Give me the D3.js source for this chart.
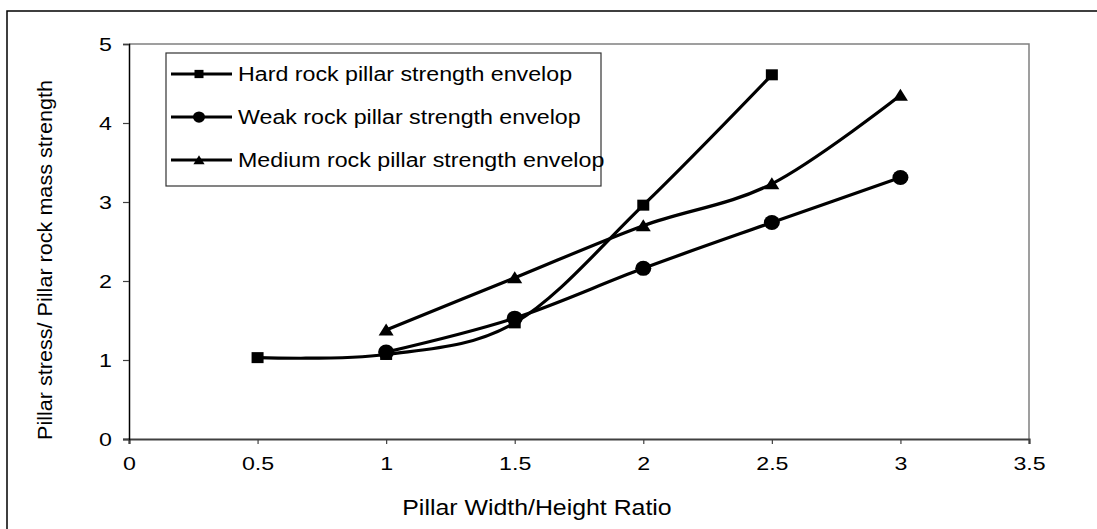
<!DOCTYPE html>
<html><head><meta charset="utf-8">
<script src="https://cdn.jsdelivr.net/npm/d3@7"></script>
<style>body{margin:0;background:#fff}svg{display:block;font-family:Arial,"Liberation Sans",sans-serif}</style>
</head><body>
<svg id="c" width="1097" height="529"></svg>
<script>
const xTicks = [0, 0.5, 1, 1.5, 2, 2.5, 3, 3.5];
const yTicks = [0, 1, 2, 3, 4, 5];
const hardX = [0.5, 1, 1.5, 2, 2.5];
const hardY = [1.03, 1.07, 1.47, 2.96, 4.61];
const weakX = [1, 1.5, 2, 2.5, 3];
const weakY = [1.10, 1.53, 2.16, 2.74, 3.31];
const medX = [1, 1.5, 2, 2.5, 3];
const medY = [1.38, 2.04, 2.70, 3.23, 4.35];
const seriesNames = ["Hard rock pillar strength envelop", "Weak rock pillar strength envelop", "Medium rock pillar strength envelop"];
const xTitle = "Pillar Width/Height Ratio";
const yTitle = "Pillar stress/ Pillar rock mass strength";

const STRETCH = 1.19;
const svg = d3.select("#c");
const m = {l:129, r:1029, t:44, b:439};
const x = d3.scaleLinear().domain([0, 3.5]).range([m.l, m.r]);
const y = d3.scaleLinear().domain([0, 5]).range([m.b, m.t]);
const fmt = d => String(d);

function stretch(sel, k) {
  sel.each(function(){
    const len = this.getComputedTextLength();
    d3.select(this).attr("textLength", len * (k || STRETCH)).attr("lengthAdjust", "spacingAndGlyphs");
  });
}

// outer frame
svg.append("rect").attr("x", 7).attr("y", 11).attr("width", 1200).attr("height", 600)
  .attr("fill", "none").attr("stroke", "#000").attr("stroke-width", 1.5);

// plot area frame (top, right)
svg.append("path").attr("d", `M${m.l},${m.t}H${m.r}V${m.b}`)
  .attr("fill", "none").attr("stroke", "#808080").attr("stroke-width", 1.5);

// x axis
const xa = svg.append("g").attr("transform", `translate(0,${m.b})`)
  .call(d3.axisBottom(x).tickValues(xTicks).tickFormat(fmt).tickSize(5).tickPadding(13));
xa.select(".domain").attr("stroke", "#404040").attr("stroke-width", 2.2);
xa.selectAll(".tick line").attr("stroke", "#404040").attr("stroke-width", 1.2);
xa.selectAll(".tick text").attr("font-size", 19).attr("fill", "#000").attr("font-family", "Arial, 'Liberation Sans', sans-serif").call(stretch, 1.22);

// y axis
const ya = svg.append("g").attr("transform", `translate(${m.l},0)`)
  .call(d3.axisLeft(y).tickValues(yTicks).tickFormat(fmt).tickSize(6).tickPadding(11));
ya.select(".domain").attr("stroke", "#000").attr("stroke-width", 1.5);
ya.selectAll(".tick line").attr("stroke", "#404040").attr("stroke-width", 1.2);
ya.selectAll(".tick text").attr("font-size", 19).attr("fill", "#000").attr("font-family", "Arial, 'Liberation Sans', sans-serif").call(stretch, 1.22);
ya.select(".tick:first-of-type line").attr("stroke-width", 2);

// titles
svg.append("text").attr("x", 537).attr("y", 515).attr("text-anchor", "middle")
  .attr("font-size", 22).text(xTitle).call(stretch, 1.13);
svg.append("text").attr("transform", "translate(52,260) rotate(-90)").attr("text-anchor", "middle")
  .attr("font-size", 20).attr("textLength", 360).attr("lengthAdjust", "spacingAndGlyphs").text(yTitle);

// series
const line = d3.line().x(d => x(d[0])).y(d => y(d[1])).curve(d3.curveCatmullRom.alpha(0));
const series = [
  {xs: hardX, ys: hardY, mk: "square"},
  {xs: weakX, ys: weakY, mk: "circle"},
  {xs: medX, ys: medY, mk: "triangle"}
];
function marker(g, type, cx, cy, s) {
  s = s || 1;
  if (type === "square") {
    g.append("rect").attr("x", cx - 6*s).attr("y", cy - 5.5*s).attr("width", 12*s).attr("height", 11*s).attr("fill", "#000");
  } else if (type === "circle") {
    g.append("ellipse").attr("cx", cx).attr("cy", cy).attr("rx", 8*s).attr("ry", 7.5*s).attr("fill", "#000");
  } else {
    g.append("path").attr("d", `M${cx},${cy-6.5*s}L${cx+7.5*s},${cy+5.5*s}L${cx-7.5*s},${cy+5.5*s}Z`).attr("fill", "#000");
  }
}
const gS = svg.append("g");
series.forEach(s => {
  const pts = s.xs.map((v, i) => [v, s.ys[i]]);
  gS.append("path").attr("d", line(pts)).attr("fill", "none").attr("stroke", "#000").attr("stroke-width", 3.2);
});
series.forEach(s => {
  s.xs.forEach((v, i) => marker(gS, s.mk, x(v), y(s.ys[i])));
});

// legend
const lg = svg.append("g");
lg.append("rect").attr("x", 166).attr("y", 53).attr("width", 435).attr("height", 133)
  .attr("fill", "#fff").attr("stroke", "#333").attr("stroke-width", 1.2);
const rows = [74, 117, 160];
series.forEach((s, i) => {
  lg.append("line").attr("x1", 171).attr("x2", 232).attr("y1", rows[i]).attr("y2", rows[i])
    .attr("stroke", "#000").attr("stroke-width", 3.2);
  marker(lg, s.mk, 199, rows[i], 0.75);
  lg.append("text").attr("x", 238).attr("y", rows[i] + 7).attr("font-size", 19.5).text(seriesNames[i]).call(stretch);
});
</script>
</body></html>
